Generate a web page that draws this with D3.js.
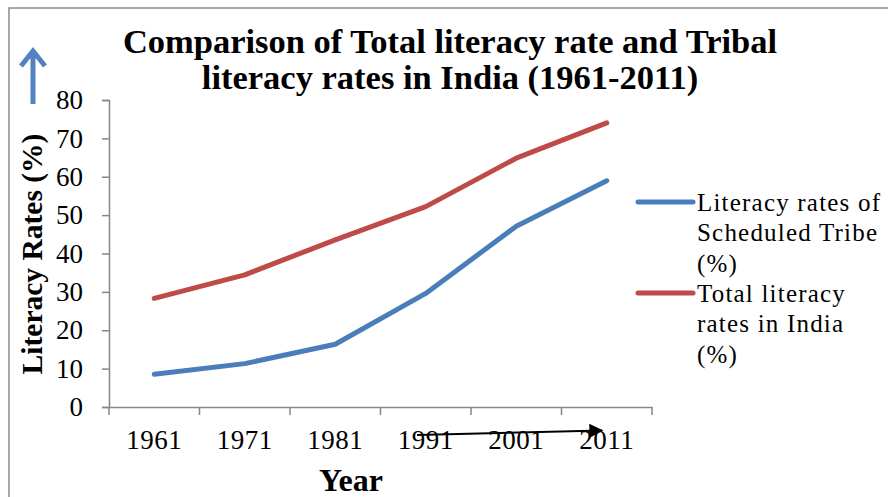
<!DOCTYPE html>
<html>
<head>
<meta charset="utf-8">
<script src="https://cdn.jsdelivr.net/npm/d3@7/dist/d3.min.js"></script>
<style>
  body { margin: 0; background: #fff; }
  svg { display: block; }
</style>
</head>
<body>
<div id="chart"></div>
<script>
var years = ["1961", "1971", "1981", "1991", "2001", "2011"];
var tribalRates = [8.53, 11.3, 16.35, 29.6, 47.1, 58.96];
var totalRates = [28.3, 34.45, 43.57, 52.21, 64.84, 74.04];
var yTicks = [0, 10, 20, 30, 40, 50, 60, 70, 80];
var seriesNames = [
    ["Literacy rates of", "Scheduled Tribe", "(%)"],
    ["Total literacy", "rates in India", "(%)"]
];
var seriesColors = ["#4a7ebb", "#be4b48"];
var titleLines = ["Comparison of Total literacy rate and Tribal", "literacy rates in India (1961-2011)"];

var svgWidth = 888, svgHeight = 497;
var margin = {top: 100, left: 109, right: 236, bottom: 90};
var serif = "'Liberation Serif', 'Times New Roman', serif";

var svg = d3.select("#chart").append("svg")
    .attr("width", svgWidth)
    .attr("height", svgHeight);

// outer frame of the chart
svg.append("rect")
    .attr("x", 9).attr("y", 8)
    .attr("width", 900).attr("height", 520)
    .attr("fill", "none")
    .attr("stroke", "#8c8c8c")
    .attr("stroke-width", 1.5);

var x = d3.scaleBand()
    .domain(years)
    .range([margin.left, svgWidth - margin.right]);

var y = d3.scaleLinear()
    .domain([0, 80])
    .range([407, margin.top]);

// y axis
var yAxis = svg.append("g")
    .attr("transform", `translate(${margin.left}, 0)`)
    .call(d3.axisLeft(y).tickValues(yTicks).tickSize(7).tickPadding(19));
yAxis.selectAll("text")
    .style("font-family", serif)
    .style("font-size", "27px")
    .attr("fill", "#000");

// x axis: labels at band centres, ticks at band edges
var xAxis = svg.append("g")
    .attr("transform", `translate(0, ${y(0)})`)
    .call(d3.axisBottom(x).tickSize(0).tickPadding(23));
xAxis.selectAll("text")
    .style("font-family", serif)
    .style("font-size", "27px")
    .style("letter-spacing", "0.5px")
    .attr("fill", "#000");

var edges = years.map(function (d) { return x(d); }).concat([x.range()[1]]);
xAxis.selectAll(".edge")
    .data(edges)
    .enter().append("line")
    .attr("class", "edge")
    .attr("x1", function (d) { return d; })
    .attr("x2", function (d) { return d; })
    .attr("y1", 0).attr("y2", 8);

svg.selectAll(".domain, .tick line, .edge")
    .attr("stroke", "#868686")
    .attr("stroke-width", 1.5);

// lines
var line = d3.line()
    .x(function (d, i) { return x(years[i]) + x.bandwidth() / 2; })
    .y(function (d) { return y(d); });

[tribalRates, totalRates].forEach(function (values, i) {
    svg.append("path")
        .datum(values)
        .attr("fill", "none")
        .attr("stroke", seriesColors[i])
        .attr("stroke-width", 5)
        .attr("stroke-linecap", "round")
        .attr("stroke-linejoin", "round")
        .attr("d", line);
});

// title
var title = svg.append("text")
    .attr("x", 450)
    .attr("text-anchor", "middle")
    .style("font-family", serif)
    .style("font-weight", "bold")
    .style("font-size", "34.5px");
titleLines.forEach(function (t, i) {
    title.append("tspan")
        .attr("x", 450)
        .attr("y", 53 + i * 36)
        .text(t);
});

// axis titles
svg.append("text")
    .attr("x", 351).attr("y", 491)
    .attr("text-anchor", "middle")
    .style("font-family", serif)
    .style("font-weight", "bold")
    .style("font-size", "32px")
    .text("Year");

svg.append("text")
    .attr("transform", "translate(42, 254) rotate(-90)")
    .attr("text-anchor", "middle")
    .style("font-family", serif)
    .style("font-weight", "bold")
    .style("font-size", "29.5px")
    .text("Literacy Rates (%)");

// blue arrow above the y-axis title
svg.append("path")
    .attr("d", "M33,104 L33,51 M21,66 L33,51 L45,66")
    .attr("fill", "none")
    .attr("stroke", "#5282bf")
    .attr("stroke-width", 5)
    .attr("stroke-linejoin", "miter");

// black arrow under the x axis
svg.append("defs").append("marker")
    .attr("id", "head")
    .attr("viewBox", "0 0 10 10")
    .attr("refX", 9).attr("refY", 5)
    .attr("markerWidth", 7.5).attr("markerHeight", 7)
    .attr("markerUnits", "strokeWidth")
    .attr("orient", "auto")
    .append("path")
    .attr("d", "M0,0 L10,5 L0,10 Z")
    .attr("fill", "#000");

svg.append("line")
    .attr("x1", 417).attr("y1", 435)
    .attr("x2", 602).attr("y2", 430.5)
    .attr("stroke", "#000")
    .attr("stroke-width", 2)
    .attr("marker-end", "url(#head)");

// legend
var legend = svg.append("g");
seriesNames.forEach(function (lines, i) {
    var top = 202 + i * 91;
    legend.append("line")
        .attr("x1", 638).attr("x2", 693)
        .attr("y1", top).attr("y2", top)
        .attr("stroke", seriesColors[i])
        .attr("stroke-width", 5)
        .attr("stroke-linecap", "round");
    lines.forEach(function (t, j) {
        legend.append("text")
            .attr("x", 697)
            .attr("y", top + j * 30.5)
            .attr("dy", "0.35em")
            .style("font-family", serif)
            .style("font-size", "25px")
            .style("letter-spacing", "1.2px")
            .text(t);
    });
});
</script>
</body>
</html>
